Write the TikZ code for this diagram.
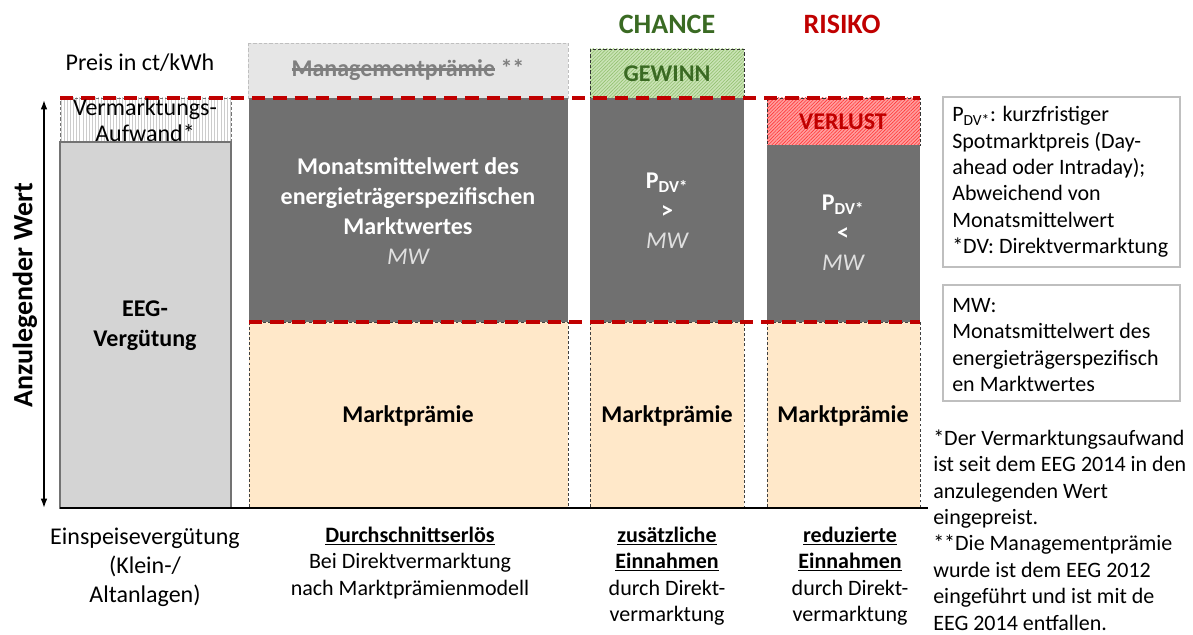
\documentclass[tikz,border=0pt]{standalone}
\usepackage{fontspec}
\setmainfont{Carlito}
\usepackage{tikz}
\usetikzlibrary{arrows.meta, patterns.meta}

\definecolor{barDark}{HTML}{707070}
\definecolor{barLight}{HTML}{D4D4D4}
\definecolor{premium}{HTML}{FFE8C9}
\definecolor{mgmtGray}{HTML}{E6E6E6}
\definecolor{textGray}{HTML}{7F7F7F}
\definecolor{lossRed}{HTML}{C00000}
\definecolor{lossFill}{HTML}{FF9E9E}
\definecolor{lossHatch}{HTML}{FF3A3A}
\definecolor{gainGreen}{HTML}{3A6A23}
\definecolor{gainFill}{HTML}{CAE3B6}
\definecolor{gainHatch}{HTML}{93C170}
\definecolor{frameGray}{HTML}{BFBFBF}

\newsavebox\strikebox
\newcommand\strikeword[1]{\sbox\strikebox{#1}\rlap{\rule[0.25em]{\wd\strikebox}{0.09em}}\usebox\strikebox}

\begin{document}
\begin{tikzpicture}[
    x=0.75pt, y=-0.75pt,
    plaintext/.style={inner sep=0pt, align=center, font=\fontsize{18}{21.75}\selectfont},
    boldtext/.style={inner sep=0pt, align=center, font=\fontsize{18}{22.5}\selectfont\bfseries},
    headtext/.style={inner sep=0pt, font=\fontsize{21}{25}\selectfont\bfseries},
    captiontext/.style={inner sep=0pt, align=center, font=\fontsize{16.5}{19.8}\selectfont},
    notetext/.style={inner sep=0pt, align=left, anchor=west, font=\fontsize{16.5}{19.8}\selectfont},
    darkbar/.style={fill=barDark},
    premiumbar/.style={fill=premium, draw=black!75, line width=0.6pt, dash pattern=on 2.2pt off 1.6pt},
    feedinbar/.style={fill=barLight, draw=black!55, line width=0.8pt},
    costbox/.style={pattern={Lines[angle=90, distance=2.3pt, line width=0.4pt]}, pattern color=black!20},
    gainbox/.style={fill=gainFill, postaction={pattern={Lines[angle=45, distance=1.8pt, line width=0.45pt]}, pattern color=gainHatch}},
    lossbox/.style={fill=lossFill, postaction={pattern={Lines[angle=45, distance=1.8pt, line width=0.45pt]}, pattern color=lossHatch}},
    boxedge/.style={draw=black!80, line width=0.7pt, dash pattern=on 2.5pt off 1.5pt},
    limitline/.style={draw=lossRed, line width=2.3pt, dash pattern=on 10pt off 6pt},
    axisarrow/.style={{Latex[length=7pt, width=5pt]}-{Latex[length=7pt, width=5pt]}, line width=1.1pt},
    infobox/.style={draw=frameGray, line width=0.9pt}
]
\useasboundingbox (0,0) rectangle (1193,635);

% ----- Einspeiseverguetung
\fill[costbox] (60,98) rectangle (231,142);
\draw[draw=black!55, line width=0.7pt, dash pattern=on 2.5pt off 1.5pt] (60,142) -- (60,98) -- (231,98) -- (231,142);
\draw[feedinbar] (60,142) rectangle (231,508);

% ----- Direktvermarktung
\draw[fill=mgmtGray, draw=black!25, line width=0.6pt, dash pattern=on 2.5pt off 1.5pt] (248,43) rectangle (568,98);
\fill[darkbar] (249,98) rectangle (568,322);
\draw[premiumbar] (249,322) rectangle (568,508);

% ----- Chance
\path[gainbox] (590,49) rectangle (744,98);
\draw[boxedge] (590,49) rectangle (744,98);
\fill[darkbar] (590,98) rectangle (744,322);
\draw[premiumbar] (590,322) rectangle (744,508);

% ----- Risiko
\path[lossbox] (767,98) rectangle (920,145);
\draw[boxedge] (767,98) rectangle (920,145);
\fill[darkbar] (767,145) rectangle (920,322);
\draw[premiumbar] (767,322) rectangle (920,508);

% ----- Linien
\draw[limitline] (60,98) -- (920,98);
\draw[limitline] (249,322) -- (920,322);
\draw[line width=2.2pt] (60,508) -- (928,508);
\coordinate (axistop) at (44,100);
\coordinate (axisbottom) at (44,508);
\draw[axisarrow] (axistop) -- (axisbottom);

% ----- Texte oben
\node[plaintext] (price) at (140,63) {Preis in ct/kWh};
\node[headtext, text=gainGreen] (chance) at (667,24) {CHANCE};
\node[headtext, text=lossRed] (risk) at (842,24) {RISIKO};
\node[headtext, rotate=90] (value) at (25,295) {Anzulegender Wert};

% ----- Texte in den Balken
\node[plaintext, font=\fontsize{18}{19.5}\selectfont] (cost) at (145,120) {Vermarktungs-\\Aufwand*};
\node[boldtext] (feedin) at (145,326) {EEG-\\Vergütung};
\node[boldtext, text=textGray] (mgmt) at (408,70) {\strikeword{Managementprämie} **};
\node[boldtext, text=white] (monthly) at (408,211) {Monatsmittelwert des\\energieträgerspezifischen\\Marktwertes\\{\mdseries\itshape\color{black!12}MW}};
\node[boldtext, text=gainGreen] (gain) at (667,74) {GEWINN};
\node[boldtext, text=lossRed] (loss) at (843,122) {VERLUST};
\node[boldtext, text=white] (higher) at (667,211) {P\textsubscript{DV*}\\>\\{\mdseries\itshape\color{black!12}MW}};
\node[boldtext, text=white] (lower) at (843,233) {P\textsubscript{DV*}\\<\\{\mdseries\itshape\color{black!12}MW}};
\node[boldtext] (premium1) at (408,416) {Marktprämie};
\node[boldtext] (premium2) at (667,416) {Marktprämie};
\node[boldtext] (premium3) at (843,416) {Marktprämie};

% ----- Texte unten
\node[plaintext] (feedinlabel) at (145,567) {Einspeisevergütung\\(Klein-/\\Altanlagen)};
\node[captiontext] (averagelabel) at (410,563) {\underline{\textbf{Durchschnittserlös}}\\Bei Direktvermarktung\\nach Marktprämienmodell};
\node[captiontext] (gainlabel) at (667,576) {\underline{\textbf{zusätzliche}}\\\underline{\textbf{Einnahmen}}\\durch Direkt-\\vermarktung};
\node[captiontext] (losslabel) at (850,576) {\underline{\textbf{reduzierte}}\\\underline{\textbf{Einnahmen}}\\durch Direkt-\\vermarktung};

% ----- Erlaeuterungen rechts
\draw[infobox] (943,97) rectangle (1180,267);
\node[notetext] (spotnote) at (952,182) {P\textsubscript{DV*}: kurzfristiger\\Spotmarktpreis (Day-\\ahead oder Intraday);\\Abweichend von\\Monatsmittelwert\\{}*DV: Direktvermarktung};
\draw[infobox] (943,285) rectangle (1180,401);
\node[notetext] (mwnote) at (952,345) {MW:\\Monatsmittelwert des\\energieträgerspezifisch\\en Marktwertes};
\node[notetext] (footnote) at (933,530) {*Der Vermarktungsaufwand\\ist seit dem EEG 2014 in den\\anzulegenden Wert\\eingepreist.\\{}**Die Managementprämie\\wurde ist dem EEG 2012\\eingeführt und ist mit de\\EEG 2014 entfallen.};

\end{tikzpicture}
\end{document}
